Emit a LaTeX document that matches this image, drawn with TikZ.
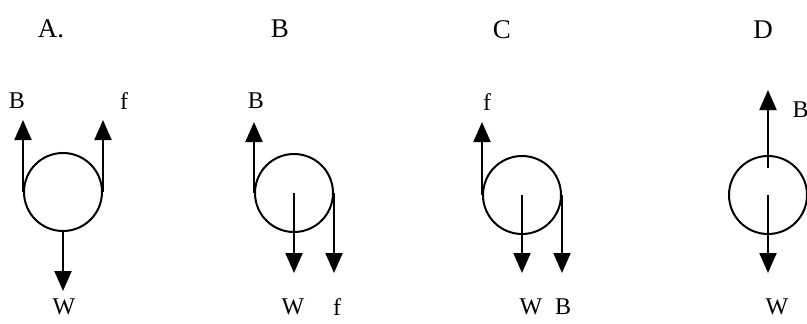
\documentclass[tikz,border=0pt]{standalone}
\usepackage{fontspec}
\setmainfont{Liberation Serif}
\usetikzlibrary{arrows.meta, calc}

\begin{document}
\begin{tikzpicture}[x=1pt, y=-1pt,
  wheel/.style={draw, circle, line width=2pt, minimum size=78pt, inner sep=0pt},
  force/.style={-{Triangle[width=17pt,length=20pt]}, line width=2pt},
  title/.style={font=\fontsize{27}{30}\selectfont},
  lbl/.style={font=\fontsize{24}{27}\selectfont}]
\useasboundingbox (0,0) rectangle (807,324);
% A
\node[title] (tA) at (51,29) {A.};
\node[wheel] (ca) at (63,192) {};
\coordinate (aB) at ($(ca.west)+(0,-72)$);
\coordinate (af) at ($(ca.east)+(0,-72)$);
\coordinate (aW) at ($(ca.south)+(0,59)$);
\node[lbl] (laB) at (17,101) {B};
\node[lbl] (laf) at (124,101) {f};
\node[lbl] (laW) at (64,307) {W};
\draw[force] (ca.west) -- (aB);
\draw[force] (ca.east) -- (af);
\draw[force] (ca.south) -- (aW);
% B
\node[title] (tB) at (280,29) {B};
\node[wheel] (cb) at (294,193) {};
\coordinate (bB) at ($(cb.west)+(0,-71)$);
\coordinate (bW) at ($(cb.center)+(0,80)$);
\coordinate (bf) at ($(cb.east)+(0,80)$);
\node[lbl] (lbB) at (256,101) {B};
\node[lbl] (lbW) at (293,307) {W};
\node[lbl] (lbf) at (337,307) {f};
\draw[force] (cb.west) -- (bB);
\draw[force] (cb.center) -- (bW);
\draw[force] (cb.east) -- (bf);
% C
\node[title] (tC) at (502,30) {C};
\node[wheel] (cc) at (522,195) {};
\coordinate (cf) at ($(cc.west)+(0,-73)$);
\coordinate (cW) at ($(cc.center)+(0,78)$);
\coordinate (cB) at ($(cc.east)+(0,78)$);
\node[lbl] (lcf) at (487,102) {f};
\node[lbl] (lcW) at (531,307) {W};
\node[lbl] (lcB) at (563,307) {B};
\draw[force] (cc.west) -- (cf);
\draw[force] (cc.center) -- (cW);
\draw[force] (cc.east) -- (cB);
% D
\node[title] (tD) at (763,30) {D};
\node[wheel] (cd) at (768,195) {};
\coordinate (dB0) at ($(cd.center)+(0,-27)$);
\coordinate (dB) at ($(cd.center)+(0,-105)$);
\coordinate (dW) at ($(cd.center)+(0,78)$);
\node[lbl, anchor=west] (ldB) at (789,110) {B};
\node[lbl] (ldW) at (777,307) {W};
\draw[force] (dB0) -- (dB);
\draw[force] (cd.center) -- (dW);
\end{tikzpicture}
\end{document}
